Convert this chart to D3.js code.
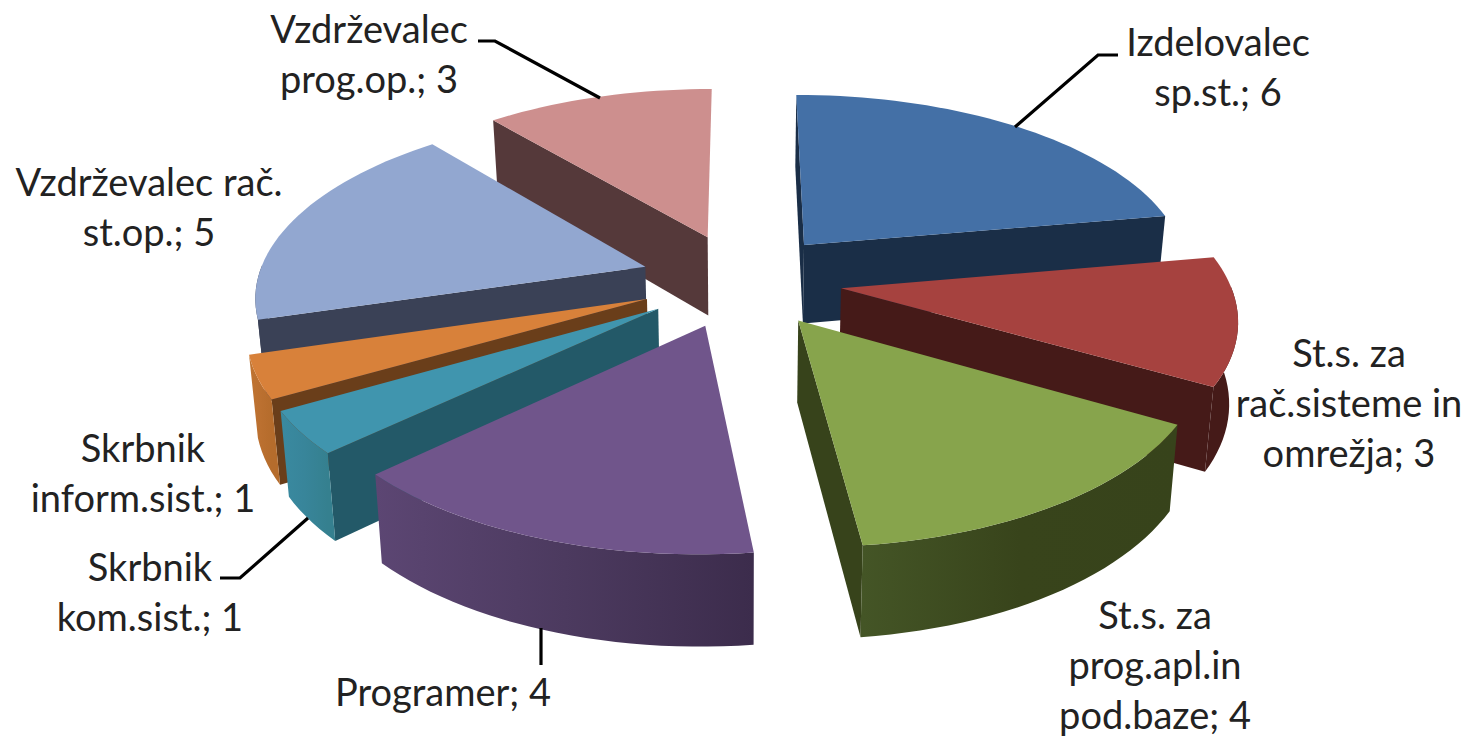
<!DOCTYPE html>
<html>
<head>
<meta charset="utf-8">
<script src="https://cdn.jsdelivr.net/npm/d3@7"></script>
<style>
  html, body { margin: 0; padding: 0; background: #fff; }
  svg { display: block; }
  text { font-family: Lato, "Open Sans", sans-serif; font-size: 38px; fill: #222; }
</style>
</head>
<body>
<div id="chart"></div>
<script>
// podatki
const categories = ["Izdelovalec sp.st.", "St.s. za rač.sisteme in omrežja", "St.s. za prog.apl.in pod.baze", "Programer",
  "Skrbnik kom.sist.", "Skrbnik inform.sist.", "Vzdrževalec rač. st.op.", "Vzdrževalec prog.op."];
const values = [6, 3, 4, 4, 1, 1, 5, 3];

const labelLines = [
  ["Izdelovalec", "sp.st.; 6"],
  ["St.s. za", "rač.sisteme in", "omrežja; 3"],
  ["St.s. za", "prog.apl.in", "pod.baze; 4"],
  ["Programer; 4"],
  ["Skrbnik", "kom.sist.; 1"],
  ["Skrbnik", "inform.sist.; 1"],
  ["Vzdrževalec rač.", "st.op.; 5"],
  ["Vzdrževalec", "prog.op.; 3"]
];
const labelPos = [[1218, 56], [1349, 367], [1155, 629], [443, 706], [150, 581], [143, 462], [149, 196], [369, 43]];

const topColors = ["#4470a6", "#a6423f", "#87a44c", "#70558b", "#4095ae", "#d8813a", "#92a7d0", "#cd8f8e"];
const wallColors = [["#1a2e47", "#1a2e47", "#1a2e47"], ["#451a18", "#451a18", "#451a18"], ["#445526", "#38441b", "#37431b"],
  ["#5c4673", "#4c3a5f", "#3c2c4c"], ["#3a8aa0", "#38859a", "#35808f"], ["#c07431", "#bb7030", "#b56c2c"],
  ["#3a4156", "#3a4156", "#3a4156"], ["#55393a", "#55393a", "#55393a"]];
const sideColors = ["#1a2e47", "#451a18", "#37431b", "#5c4673", "#235968", "#6a3e1a", "#3a4156", "#55393a"];

const leaders = [
  [[1118, 55], [1098, 55], [1015, 127]],
  [[478, 41], [495, 41], [600, 98]],
  [[220, 578], [240, 578], [308, 518]],
  [[541, 628], [541, 665]]
];

const width = 1478, height = 737;
const cx = 741, cy = 280, rx = 388, ky = 181, persp = 0.144;
const explode = 0.26, depth = 80, bottomShrink = 0.982;

// ravnina torte -> zaslon
function project(x, v, low) {
  const f = 1 / (1 - persp * v);
  const s = low ? bottomShrink : 1;
  return [cx + rx * x * f * s, cy + ky * v * f + (low ? depth * (1 + 0.7 * (f - 1)) : 0)];
}

const cross = (o, a, b) => (a[0] - o[0]) * (b[1] - o[1]) - (a[1] - o[1]) * (b[0] - o[0]);

const svg = d3.select("#chart").append("svg")
  .attr("width", width)
  .attr("height", height);
const defs = svg.append("defs");
const line = d3.line();

const arcs = d3.pie().sort(null).value(d => d)(values).map((d, i) => {
  const mid = (d.startAngle + d.endAngle) / 2;
  const ox = explode * Math.sin(mid), ov = -explode * Math.cos(mid);
  const n = Math.max(4, Math.ceil((d.endAngle - d.startAngle) * 30));
  const rim = d3.range(n + 1).map(k => {
    const a = d.startAngle + (d.endAngle - d.startAngle) * k / n;
    return [ox + Math.sin(a), ov - Math.cos(a)];
  });
  return { i, mid, ox, ov, rim };
});

// zadnji kosi najprej
arcs.sort((a, b) => Math.cos(b.mid) - Math.cos(a.mid));

arcs.forEach(s => {
  const g = svg.append("g").attr("class", "slice");
  const tipTop = project(s.ox, s.ov);
  const tipLow = project(s.ox, s.ov, true);
  const top = s.rim.map(p => project(p[0], p[1]));
  const inner = top[Math.floor(top.length / 2)];

  // radialni stranici, samo vidni
  [s.rim[0], s.rim[s.rim.length - 1]].forEach(p => {
    const a = project(p[0], p[1]);
    const c = cross(tipTop, a, tipLow);
    if (c * cross(tipTop, a, inner) >= 0 || Math.abs(c) < 500) return;
    g.append("path")
      .attr("d", line([tipTop, a, project(p[0], p[1], true), tipLow]) + "Z")
      .attr("fill", sideColors[s.i]);
  });

  // zunanji rob, samo sprednji del
  const front = s.rim.filter(p => p[1] - s.ov > -0.03);
  if (front.length > 1) {
    const upper = front.map(p => project(p[0], p[1]));
    const lower = front.map(p => project(p[0], p[1], true));
    const xs = d3.extent(top, p => p[0]);
    const id = "wall-" + s.i;
    const grad = defs.append("linearGradient")
      .attr("id", id)
      .attr("gradientUnits", "userSpaceOnUse")
      .attr("x1", xs[0]).attr("x2", xs[1])
      .attr("y1", 0).attr("y2", 0);
    wallColors[s.i].forEach((c, k) => {
      grad.append("stop").attr("offset", k * 50 + "%").attr("stop-color", c);
    });
    g.append("path")
      .attr("d", line(upper.concat(lower.reverse())) + "Z")
      .attr("fill", `url(#${id})`);
  }

  g.append("path")
    .attr("d", line([tipTop].concat(top)) + "Z")
    .attr("fill", topColors[s.i]);
});

// povezovalne črte
svg.selectAll("path.leader")
  .data(leaders)
  .enter()
  .append("path")
  .attr("class", "leader")
  .attr("d", d => line(d))
  .attr("fill", "none")
  .attr("stroke", "#000")
  .attr("stroke-width", 3.2);

// oznake
labelLines.forEach((lines, i) => {
  const t = svg.append("text")
    .attr("text-anchor", "middle")
    .attr("x", labelPos[i][0])
    .attr("y", labelPos[i][1]);
  lines.forEach((l, k) => {
    t.append("tspan")
      .attr("x", labelPos[i][0])
      .attr("dy", k === 0 ? 0 : 50)
      .text(l);
  });
});
</script>
</body>
</html>
